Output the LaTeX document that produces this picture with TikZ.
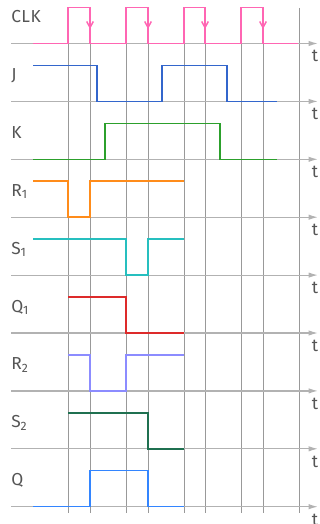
\documentclass[tikz,border=0pt]{standalone}
\usepackage{fontspec}
\setmainfont{Fira Sans}
\usetikzlibrary{arrows.meta}
\definecolor{clkc}{HTML}{FF66B3}
\definecolor{jc}{HTML}{3366CC}
\definecolor{kc}{HTML}{2CA02C}
\definecolor{raC}{HTML}{FF8C1A}
\definecolor{saC}{HTML}{26BFBF}
\definecolor{qaC}{HTML}{DD2A2A}
\definecolor{rbC}{HTML}{8C8CFF}
\definecolor{sbC}{HTML}{1F7050}
\definecolor{qc}{HTML}{3385FF}
\definecolor{txt}{HTML}{555555}
\begin{document}
\begin{tikzpicture}[x=0.75pt,y=0.75pt,
  grid/.style={draw=black!40,line width=0.75pt},
  axis/.style={draw=black!30,line width=0.9pt,-{Latex[length=7pt,width=4pt]}},
  wave/.style={line width=1.1pt},
  lab/.style={anchor=base west,inner sep=0pt,text=txt,font=\fontsize{13}{15}\selectfont\addfontfeatures{LetterSpace=3}},
  tlab/.style={anchor=base,inner sep=0pt,text=txt,font=\fontsize{13}{15}\selectfont}]
\useasboundingbox (0,0) rectangle (320,-524);
% clock edges
\foreach \x in {68,90,126,148,184,205,241,263,299}
  \draw[grid] (\x,-8) -- (\x,-513);
% time axes with signal names
\foreach \lab/\name [count=\k from 0] in {CLK/clk,J/j,K/k,R\textsubscript{1}/ra,S\textsubscript{1}/sa,Q\textsubscript{1}/qa,R\textsubscript{2}/rb,S\textsubscript{2}/sb,Q/q}{
  \pgfmathsetmacro\b{-43.5-57.9*\k}
  \coordinate (\name) at (0,\b);
  \draw[axis] (11,\b) -- (318,\b);
  \node[lab] (lab-\name) at (11,\b+21) {\lab};
  \node[tlab] (t-\name) at (315,\b-18.5) {t};
}
% waveforms
\draw[wave,clkc,shift={(clk)}] (33,0) -| (68,36) -| (90,0) -| (126,36) -| (148,0) -| (184,36) -| (205,0) -| (241,36) -| (263,0) -- (298,0);
\foreach \x in {90,148,205,263}
  \draw[wave,clkc,shift={(clk)},-{Straight Barb[length=4.5pt,width=5pt]}] (\x,36) -- (\x,14.5);
\draw[wave,jc,shift={(j)}] (33,36) -| (97,0) -| (162,36) -| (227,0) -- (277,0);
\draw[wave,kc,shift={(k)}] (33,0) -| (105,36) -| (220,0) -- (277,0);
\draw[wave,raC,shift={(ra)}] (33,36) -| (68,0) -| (90,36) -- (184,36);
\draw[wave,saC,shift={(sa)}] (33,36) -| (126,0) -| (148,36) -- (184,36);
\draw[wave,qaC,shift={(qa)}] (68,36) -| (126,0) -- (184,0);
\draw[wave,rbC,shift={(rb)}] (68,36) -| (90,0) -| (126,36) -- (184,36);
\draw[wave,sbC,shift={(sb)}] (68,36) -| (148,0) -- (184,0);
\draw[wave,qc,shift={(q)}] (33,0) -| (90,36) -| (148,0) -- (184,0);
\end{tikzpicture}
\end{document}
